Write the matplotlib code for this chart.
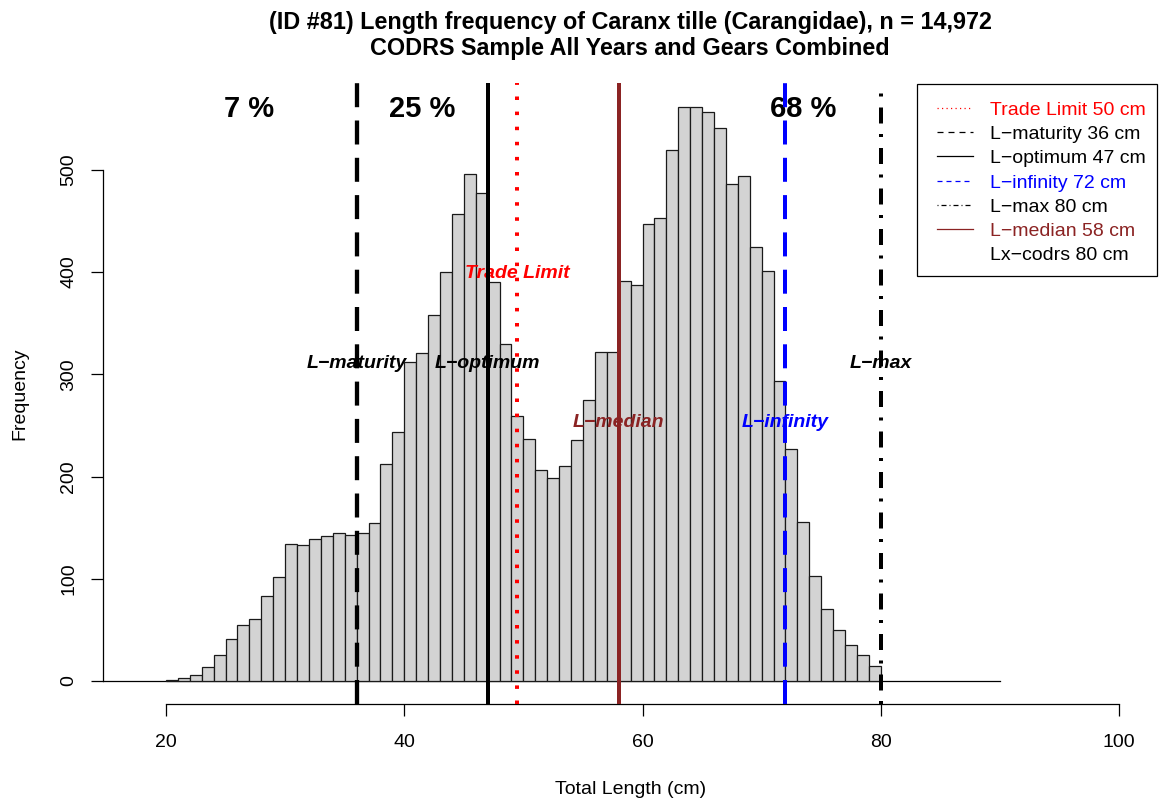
import matplotlib
matplotlib.use('Agg')
import matplotlib.pyplot as plt
from matplotlib.lines import Line2D
from matplotlib.patches import Rectangle
from matplotlib.transforms import offset_copy

# ---------------- data ----------------
bin_starts = list(range(20, 80))
counts = [1, 3, 6, 14, 25, 41, 55, 61, 83, 102,
          134, 133, 139, 142, 145, 143, 145, 155, 212, 244,
          312, 321, 358, 400, 457, 496, 477, 390, 330, 259,
          237, 206, 199, 210, 236, 275, 322, 322, 391, 387,
          447, 453, 519, 562, 562, 557, 541, 486, 494, 425,
          401, 293, 227, 156, 103, 70, 50, 35, 25, 15]

ref_names = ["Trade Limit", "L\u2212maturity", "L\u2212optimum", "L\u2212infinity", "L\u2212max", "L\u2212median"]
ref_values = [49.5, 36, 47, 72, 80, 58]
ref_legend = ["Trade Limit 50 cm", "L\u2212maturity 36 cm", "L\u2212optimum 47 cm",
              "L\u2212infinity 72 cm", "L\u2212max 80 cm", "L\u2212median 58 cm", "Lx\u2212codrs 80 cm"]
ref_label_y = [401, 313, 313, 255, 313, 255]

pct_labels = ["7 %", "25 %", "68 %"]
pct_x = [27, 41.5, 73.5]

xticks = [20, 40, 60, 80, 100]
yticks = [0, 100, 200, 300, 400, 500]

title1 = "(ID #81) Length frequency of Caranx tille (Carangidae), n = 14,972"
title2 = "CODRS Sample All Years and Gears Combined"

# ---------------- styles ----------------
W, H = 1161, 805
PX = 0.72  # points per pixel at dpi 100
plt.rcParams['font.family'] = ['Liberation Sans', 'DejaVu Sans']
plt.rcParams['lines.scale_dashes'] = False

brown = '#8B2323'
ref_colors = ['red', 'black', 'black', 'blue', 'black', brown]
dashed = (0, (24 * PX, 13.3 * PX))
ref_styles = [(0, (3.5 * PX, 11.6 * PX)), dashed, '-', dashed,
              (0, (3 * PX, 10.5 * PX, 16 * PX, 11 * PX)), '-']
ref_widths = [4 * PX, 4.3 * PX, 4 * PX, 4 * PX, 4 * PX, 4 * PX]
leg_styles = [(0, (1.2 * PX, 3.3 * PX)), (0, (6 * PX, 5 * PX)), '-', (0, (5 * PX, 4 * PX)),
              (0, (1 * PX, 3 * PX, 5 * PX, 3 * PX)), '-', None]
leg_colors = ['red', 'black', 'black', 'blue', 'black', brown, 'black']

fig = plt.figure(figsize=(W / 100, H / 100), dpi=100)
L, R, T, B = 103, 1157, 83.5, 704
ax = fig.add_axes([L / W, 1 - B / H, (R - L) / W, (B - T) / H])
xmin, xmax = 14.71, 103.19
ax.set_xlim(xmin, xmax)
ax.set_ylim(-22.5, 584.5)

ax.bar(bin_starts, counts, width=1, align='edge', color='#D3D3D3',
       edgecolor='#1a1a1a', linewidth=0.9, zorder=2)
ax.plot([xmin, 90], [0, 0], color='black', lw=0.9, zorder=1.5)

def cap_text(x, y, s, size, **kw):
    tr = offset_copy(ax.transData, fig=fig, x=0, y=-0.35 * size / PX, units='dots')
    ax.text(x, y, s, transform=tr, fontsize=size, ha='center', va='baseline', **kw)

for nm, xv, yv, col in zip(ref_names, ref_values, ref_label_y, ref_colors):
    cap_text(xv, yv, nm, 14, fontweight='bold', fontstyle='italic', color=col, zorder=2.5)

ymax_count = max(counts)
for s, xv in zip(pct_labels, pct_x):
    cap_text(xv, ymax_count, s, 21, fontweight='bold', color='black', zorder=2.5)

for xv, col, ls, lw in zip(ref_values, ref_colors, ref_styles, ref_widths):
    ax.axvline(xv, color=col, lw=lw, ls=ls, dash_capstyle='butt', zorder=3)

for s in ['top', 'right']:
    ax.spines[s].set_visible(False)
ax.spines['left'].set_bounds(0, 500)
ax.spines['bottom'].set_bounds(20, 100)
for s in ['left', 'bottom']:
    ax.spines[s].set_linewidth(0.9)
ax.set_xticks(xticks, [str(v) for v in xticks])
ax.set_yticks(yticks, [str(v) for v in yticks], rotation=90, va='center')
ax.tick_params(axis='both', length=12 * PX, width=0.9, labelsize=14, direction='out')
ax.tick_params(axis='x', pad=13)
ax.tick_params(axis='y', pad=9.8)

# axis labels
fig.text(20 / W, 1 - 394 / H, "Frequency", rotation=90, ha='center', va='center', fontsize=14)
fig.text(631 / W, 1 - 789 / H, "Total Length (cm)", ha='center', va='center', fontsize=14)

# titles
fig.text(630 / W, 1 - 29.5 / H, title1, ha='center', va='baseline', fontsize=16.8, fontweight='bold')
fig.text(630 / W, 1 - 55.5 / H, title2, ha='center', va='baseline', fontsize=16.8, fontweight='bold')

# legend
fig.add_artist(Rectangle((917 / W, 1 - 276 / H), (1157 - 917) / W, (276 - 84) / H,
                         transform=fig.transFigure, facecolor='white', edgecolor='black', lw=0.9, zorder=4))
for i, (txt, col, ls) in enumerate(zip(ref_legend, leg_colors, leg_styles)):
    yc = 108 + i * 24.17
    if ls is not None:
        fig.add_artist(Line2D([937 / W, 973 / W], [1 - yc / H, 1 - yc / H], transform=fig.transFigure,
                              color=col, lw=0.9, ls=ls, zorder=5))
    fig.text(990 / W, 1 - (yc + 7) / H, txt, ha='left', va='baseline', fontsize=14, color=col, zorder=5)

fig.savefig('out.png', dpi=100)
